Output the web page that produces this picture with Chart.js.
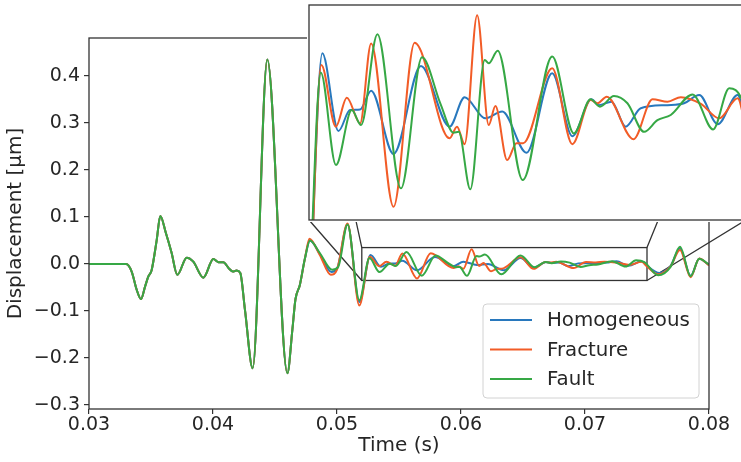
<!DOCTYPE html>
<html>
<head>
<meta charset="utf-8">
<script src="https://cdn.jsdelivr.net/npm/chart.js@4.4.0/dist/chart.umd.min.js"></script>
<style>
  html, body { margin: 0; padding: 0; background: #fff; overflow: hidden; }
  #wrap { position: relative; width: 741px; height: 462px; overflow: hidden; }
  #main { position: absolute; left: 0; top: 0; }
  #inset { position: absolute; background: #fff; }
</style>
</head>
<body>
<div id="wrap">
  <canvas id="main" width="741" height="462"></canvas>
  <canvas id="inset"></canvas>
</div>
<script>
// ---- data ----
const seriesLabels = ['Homogeneous', 'Fracture', 'Fault'];
const seriesColors = ['#2878bd', '#f25c27', '#36a845'];

// all three runs are identical up to ~0.0475 s
const commonTime = [0.0300, 0.0330, 0.03344, 0.03385, 0.03419, 0.03452, 0.03478, 0.03505, 0.03546, 0.03575,
  0.03620, 0.03665, 0.03712, 0.03788, 0.03841, 0.03922, 0.04003, 0.04043, 0.04083, 0.0413,
  0.0416, 0.0419, 0.0422, 0.04258, 0.0432, 0.04438, 0.0460, 0.0464, 0.04665, 0.0470, 0.0474];
const commonDisp = [0, 0, -0.016, -0.055, -0.0745, -0.048, -0.027, -0.013, 0.051, 0.102,
  0.066, 0.025, -0.023, 0.0135, 0.005, -0.029, 0.0106, 0.004, 0.004, -0.010,
  -0.016, -0.014, -0.019, -0.098, -0.222, 0.4355, -0.2326, -0.14, -0.075, -0.045, 0.01];

const homTime = [0.04782, 0.0486, 0.04955, 0.0500, 0.05085, 0.0518, 0.05270, 0.05355, 0.05416, 0.05469,
  0.05527, 0.05645, 0.05789, 0.0594, 0.06019, 0.06128, 0.06217, 0.06345, 0.0648, 0.06586,
  0.06686, 0.06726, 0.06792, 0.06867, 0.06946, 0.07087, 0.07174, 0.07254, 0.07351, 0.07456,
  0.0750, 0.0760, 0.0769, 0.07766, 0.07852, 0.07921, 0.0800];
const homDisp = [0.050, 0.022, -0.017, -0.010, 0.084, -0.081, 0.0193, -0.0060, 0.0008, 0.0010,
  0.0071, -0.0135, 0.0151, -0.0046, 0.0050, -0.0019, 0.0003, -0.0131, 0.0128, -0.0077,
  0.0043, 0.0024, 0.0035, -0.0046, 0.0014, 0.0024, 0.0030, 0.0057, -0.0038, 0.0057,
  -0.004, -0.019, -0.004, 0.033, -0.025, 0.011, -0.002];

const fracTime = [0.04778, 0.0486, 0.0495, 0.0500, 0.05085, 0.0518, 0.05265, 0.05341, 0.05399, 0.05469,
  0.05527, 0.05645, 0.05756, 0.0594, 0.05979, 0.06019, 0.06085, 0.06146, 0.06181, 0.06243,
  0.06292, 0.06327, 0.0648, 0.06586, 0.06682, 0.06718, 0.06767, 0.06908, 0.07008, 0.07087,
  0.07157, 0.07263, 0.07359, 0.07456, 0.0750, 0.0759, 0.0769, 0.07766, 0.07852, 0.07921, 0.0800];
const fracDisp = [0.054, 0.020, -0.023, -0.012, 0.086, -0.088, 0.0155, -0.0046, 0.0048, -0.0035,
  0.0225, -0.0307, 0.0227, -0.0084, -0.0046, -0.0103, 0.0317, -0.0041, 0.0021, -0.0155,
  -0.0100, -0.0100, 0.0144, -0.0103, 0.0041, 0.0030, 0.0051, -0.0087, 0.0043, 0.0035,
  0.0050, 0.0028, -0.0019, 0.0046, -0.005, -0.022, -0.005, 0.030, -0.028, 0.012, -0.003];

const faultTime = [0.04782, 0.0486, 0.0496, 0.0501, 0.05085, 0.0518, 0.05262, 0.05342, 0.05425, 0.05474,
  0.0556, 0.05684, 0.05795, 0.05891, 0.05961, 0.05988, 0.06049, 0.06125, 0.06146, 0.06193,
  0.06325, 0.0648, 0.06594, 0.06682, 0.06731, 0.06805, 0.06876, 0.06964, 0.07034, 0.07104,
  0.07219, 0.07327, 0.07412, 0.07479, 0.0759, 0.0769, 0.07766, 0.07852, 0.07921, 0.0800];
const faultDisp = [0.050, 0.024, -0.012, -0.006, 0.084, -0.077, 0.0130, -0.0171, 0.0008, -0.0041,
  0.0255, -0.0247, 0.0180, 0.0030, -0.0066, -0.0063, -0.0250, 0.0171, 0.0160, 0.0201,
  -0.0220, 0.0182, -0.0068, 0.0043, 0.0019, 0.0054, 0.0030, -0.0063, -0.0025, -0.0008,
  0.0059, -0.0055, 0.0079, 0.0041, -0.024, -0.006, 0.037, -0.026, 0.011, -0.001];

const xTicks = [0.03, 0.04, 0.05, 0.06, 0.07, 0.08];
const yTicks = [-0.3, -0.2, -0.1, 0.0, 0.1, 0.2, 0.3, 0.4];
const zoomX = [0.052, 0.075];   // region shown in the inset
const zoomY = [-0.035, 0.035];

// ---- layout ----
const INSET = { left: 309, top: 5, width: 437, height: 215, pad: 2 };
const INK = '#262626';
Chart.defaults.font.family = "'DejaVu Sans', sans-serif";
Chart.defaults.color = INK;

function buildDatasets() {
  const runs = [[homTime, homDisp], [fracTime, fracDisp], [faultTime, faultDisp]];
  return runs.map(([t, d], i) => ({
    label: seriesLabels[i],
    data: commonTime.concat(t).map((x, k) => ({ x: x, y: commonDisp.concat(d)[k] })),
    borderColor: seriesColors[i],
    backgroundColor: seriesColors[i],
    borderWidth: 2,
    pointRadius: 0,
    cubicInterpolationMode: 'monotone',
    fill: false,
    order: runs.length - i   // later series drawn on top, like matplotlib
  }));
}

const boxFrame = {
  id: 'boxFrame',
  afterDatasetsDraw(chart) {
    const { ctx, chartArea: a } = chart;
    ctx.save();
    ctx.strokeStyle = '#333';
    ctx.lineWidth = 1.3;
    ctx.strokeRect(a.left, a.top, a.right - a.left, a.bottom - a.top);
    ctx.restore();
  }
};

// zoom rectangle and the connector lines to the inset corners
const zoomMark = {
  id: 'zoomMark',
  beforeDatasetsDraw(chart) {
    const { ctx, scales: { x, y } } = chart;
    const x0 = x.getPixelForValue(zoomX[0]), x1 = x.getPixelForValue(zoomX[1]);
    const y0 = y.getPixelForValue(zoomY[1]), y1 = y.getPixelForValue(zoomY[0]);
    const iL = INSET.left, iT = INSET.top, iR = INSET.left + INSET.width, iB = INSET.top + INSET.height;
    ctx.save();
    ctx.strokeStyle = '#333';
    ctx.lineWidth = 1.3;
    ctx.strokeRect(x0, y0, x1 - x0, y1 - y0);
    ctx.beginPath();
    ctx.moveTo(x0, y0); ctx.lineTo(iL, iT);
    ctx.moveTo(x0, y1); ctx.lineTo(iL, iB);
    ctx.moveTo(x1, y0); ctx.lineTo(iR, iT);
    ctx.moveTo(x1, y1); ctx.lineTo(iR, iB);
    ctx.stroke();
    ctx.restore();
  }
};

const legendBox = {
  id: 'legendBox',
  afterDraw(chart, args, o) {
    const { ctx } = chart;
    ctx.save();
    ctx.beginPath();
    ctx.roundRect(o.x, o.y, o.w, o.h, 4);
    ctx.fillStyle = 'rgba(255,255,255,0.85)';
    ctx.fill();
    ctx.strokeStyle = '#d2d2d2';
    ctx.lineWidth = 1;
    ctx.stroke();
    ctx.font = "19.8px 'DejaVu Sans', sans-serif";
    ctx.textBaseline = 'middle';
    ctx.fillStyle = INK;
    chart.data.datasets.forEach((ds, i) => {
      const yy = o.y + o.rowStart + i * o.rowGap;
      ctx.beginPath();
      ctx.moveTo(o.x + 7, yy);
      ctx.lineTo(o.x + 49, yy);
      ctx.strokeStyle = ds.borderColor;
      ctx.lineWidth = 2;
      ctx.stroke();
      ctx.fillText(ds.label, o.x + 64, yy + 1);
    });
    ctx.restore();
  }
};

const tickFont = { size: 19 };

// main chart
const ctx = document.getElementById('main').getContext('2d');
const mainChart = new Chart(ctx, {
  type: 'line',
  data: { datasets: buildDatasets() },
  options: {
    responsive: false,
    animation: false,
    devicePixelRatio: 1,
    layout: { padding: { top: 38, right: 32, left: 0, bottom: 0 } },
    plugins: {
      legend: { display: false },
      tooltip: { enabled: false },
      legendBox: { x: 483, y: 304, w: 216, h: 94, rowStart: 16, rowGap: 29.5 }
    },
    scales: {
      x: {
        type: 'linear',
        min: 0.03,
        max: 0.08,
        afterBuildTicks: s => { s.ticks = xTicks.map(v => ({ value: v })); },
        afterFit: s => { s.height = 53; },
        ticks: { font: tickFont, padding: 0, maxRotation: 0, autoSkip: false,
                 callback: v => v.toFixed(2) },
        grid: { drawOnChartArea: false, drawTicks: true, tickLength: 5, color: '#333', lineWidth: 1.2 },
        border: { display: false },
        title: { display: true, text: 'Time (s)', font: { size: 20 }, padding: { top: 0, bottom: 4 } }
      },
      y: {
        type: 'linear',
        min: -0.3085,
        max: 0.481,
        afterBuildTicks: s => { s.ticks = yTicks.map(v => ({ value: v })); },
        afterFit: s => { s.width = 89; },
        ticks: { font: tickFont, padding: 4, autoSkip: false,
                 callback: v => (v < -1e-9 ? '\u2212' : '') + Math.abs(v).toFixed(1) },
        grid: { drawOnChartArea: false, drawTicks: true, tickLength: 5, color: '#333', lineWidth: 1.2 },
        border: { display: false },
        title: { display: true, text: 'Displacement [\u03bcm]', font: { size: 20 }, padding: { top: 4, bottom: 0 } }
      }
    }
  },
  plugins: [zoomMark, boxFrame, legendBox]
});

// inset chart
const insetCanvas = document.getElementById('inset');
insetCanvas.width = INSET.width + 2 * INSET.pad;
insetCanvas.height = INSET.height + 2 * INSET.pad;
insetCanvas.style.left = (INSET.left - INSET.pad) + 'px';
insetCanvas.style.top = (INSET.top - INSET.pad) + 'px';

const insetChart = new Chart(insetCanvas.getContext('2d'), {
  type: 'line',
  data: { datasets: buildDatasets() },
  options: {
    responsive: false,
    animation: false,
    devicePixelRatio: 1,
    layout: { padding: INSET.pad },
    plugins: { legend: { display: false }, tooltip: { enabled: false } },
    scales: {
      x: { type: 'linear', min: zoomX[0], max: zoomX[1], display: false },
      y: { type: 'linear', min: zoomY[0], max: zoomY[1], display: false }
    }
  },
  plugins: [boxFrame]
});
</script>
</body>
</html>
